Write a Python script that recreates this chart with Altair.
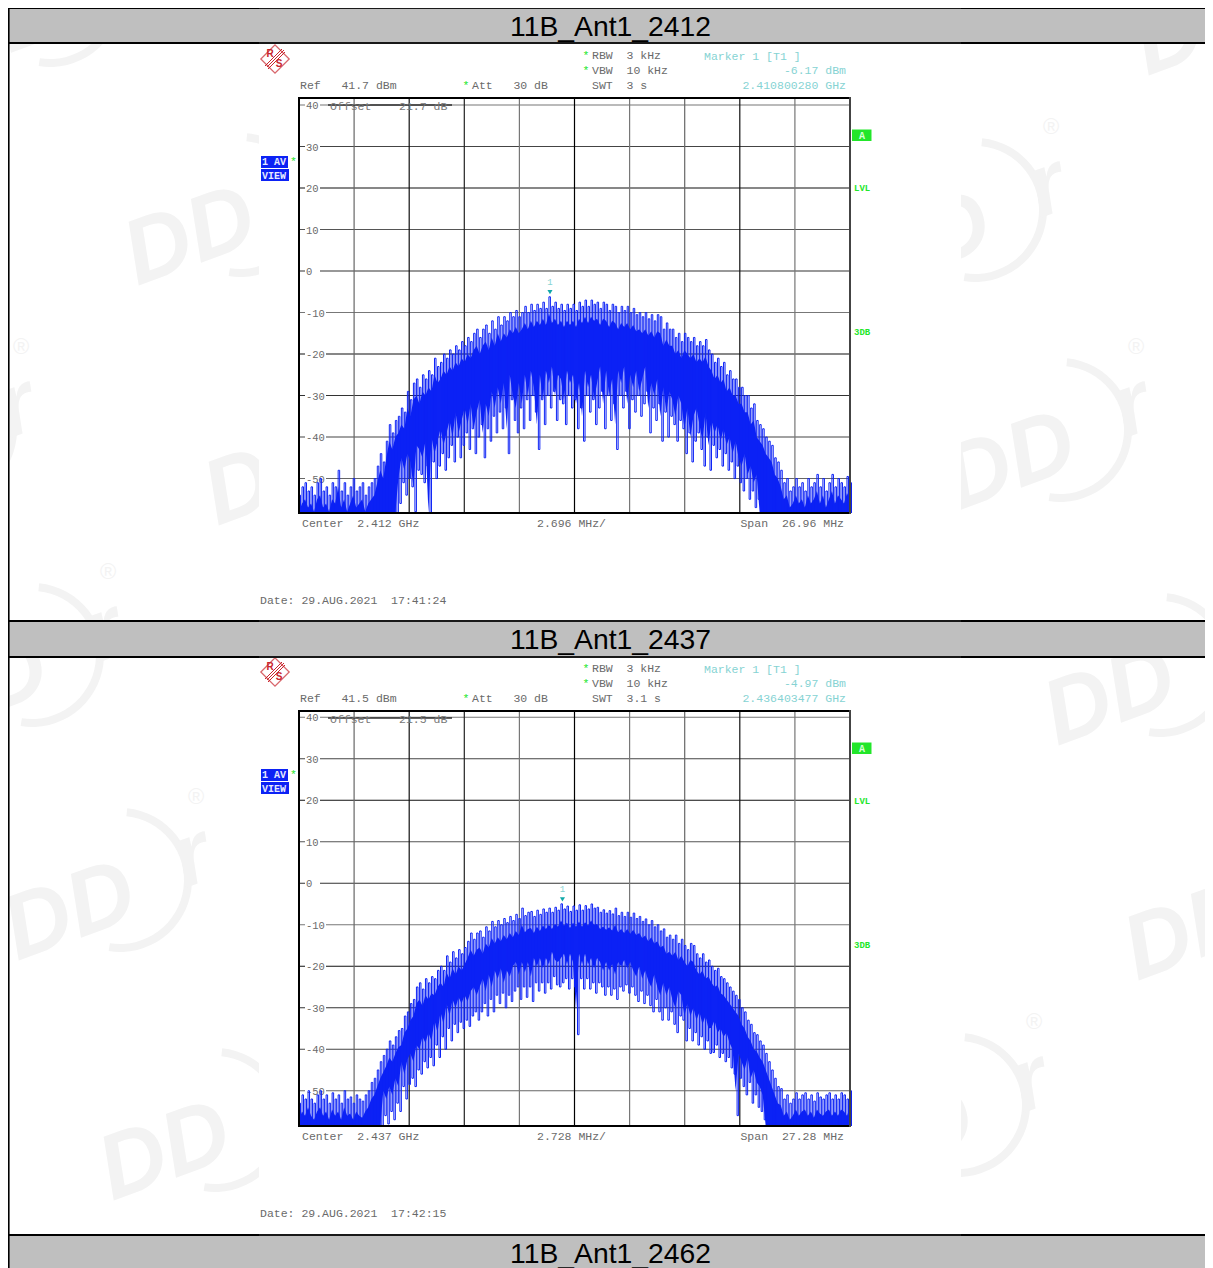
import altair as alt
import pandas as pd

W, H = 1197, 1260
MONO = "Liberation Mono"
SANS = "Liberation Sans"
GRAY = "#6a6a6a"
TEAL = "#86d3d3"
GREEN = "#22e62a"
BLUE = "#0c22f5"
RED = "#c9252d"
BAND = "#bfbfbf"
WM = "#f3f3f3"

TITLES = ["11B_Ant1_2412", "11B_Ant1_2437", "11B_Ant1_2462"]
LEVELS = [40, 30, 20, 10, 0, -10, -20, -30, -40, -50]
LEVEL_SHADES = ["#777777", "#444444", "#111111", "#555555", "#333333", "#777777", "#111111", "#333333", "#444444", "#666666"]
DIVISIONS = [-4, -3, -2, -1, 0, 1, 2, 3, 4]
DIVISION_SHADES = ["#666666", "#111111", "#222222", "#777777", "#000000", "#777777", "#666666", "#111111", "#777777"]

CENTER = [2412.0, 2437.0]
SPAN = [26.96, 27.28]
REF = [41.7, 41.5]
MARKER_F = [2410.800280, 2436.403477]
MARKER_DB = [-6.17, -4.97]
LABELS = [
    dict(ref="Ref   41.7 dBm", off="Offset    21.7 dB", swt="SWT  3 s", mdb="-6.17 dBm", mf="2.410800280 GHz",
         cen="Center  2.412 GHz", div="2.696 MHz/", span="Span  26.96 MHz", date="Date: 29.AUG.2021  17:41:24"),
    dict(ref="Ref   41.5 dBm", off="Offset    21.5 dB", swt="SWT  3.1 s", mdb="-4.97 dBm", mf="2.436403477 GHz",
         cen="Center  2.437 GHz", div="2.728 MHz/", span="Span  27.28 MHz", date="Date: 29.AUG.2021  17:42:15"),
]

HI1 = [
    -54, -52, -51, -53, -52, -54, -51, -50, -53, -52,
    -54, -51, -52, -48, -53, -51, -54, -52, -50, -53,
    -52, -51, -54, -52, -51, -50,
    -47, -44, -46, -41, -37, -39, -36, -35, -33, -34,
    -29, -31, -27, -26, -28, -25, -26, -24, -25, -21,
    -23, -22, -20, -21, -19, -20, -18, -19, -17, -18,
    -16, -17, -15, -14, -16, -14, -13, -15, -12, -14,
    -11, -13, -11, -12, -10, -11, -9.5, -11, -10, -8.5,
    -10, -8, -9.5, -8, -9, -7.5, -9, -6.2, -8.5, -7.5,
    -9, -8, -9.5, -8, -9, -8, -9.5, -7.5, -8.5, -7,
    -8.5, -7, -8, -7.5, -9, -7.5, -8, -9.5, -8, -8.5,
    -10, -8.5, -9.5, -8.5, -10, -9, -10.5, -10, -11, -10,
    -11.5, -10.5, -12, -10.5, -11, -14, -12.5, -14, -14, -16,
    -15, -17, -15, -16, -17, -16, -18, -17, -18, -16.5,
    -19, -20, -22, -21, -23, -22, -25, -24, -26, -26,
    -28, -28, -30, -30, -33, -32, -36, -37, -38, -40,
    -41, -42, -45, -46, -48, -51, -50, -53,
    -52, -50, -52, -51, -53, -50, -52, -51, -49, -52,
    -50, -53, -51, -49, -52, -50, -51, -52, -49.5, -51,
]
LO1 = [-58.3] * 33 + [
    -56, -51, -54, -50, -52, -58, -48, -49, -51, -47,
    -58.3, -46, -50, -47, -44, -48, -45, -42, -46, -40,
    -45, -42, -39, -43, -38, -44, -40, -37, -45, -38,
    -41, -35, -39, -34, -38, -33, -44, -31, -36, -39,
    -33, -38, -31, -36, -30, -34, -43, -31, -37, -30,
    -33, -29, -36, -31, -32, -37, -30, -33, -31, -38,
    -33, -41, -30, -34, -31, -37, -33, -29, -38, -30,
    -36, -32, -43, -30, -33, -29, -38, -31, -34, -30,
    -35, -32, -29, -39, -33, -36, -32, -41, -34, -40,
    -35, -37, -41, -36, -38, -44, -39, -46, -41, -39,
    -43, -47, -40, -48, -42, -45, -43, -47, -44, -48,
    -46, -50, -47, -51, -53, -50, -55, -53, -57, -55,
]
LO1 = LO1 + [-58.3] * (len(HI1) - len(LO1))

HI2 = [
    -53, -51, -52, -50, -52, -53, -51, -50, -52, -51,
    -53, -50.5, -52, -51, -53, -50, -52, -51.5, -53, -51,
    -52, -52.5, -51, -50,
    -48, -47, -45, -43, -41.5, -40, -38, -39, -37, -35.5,
    -35, -32, -31, -29, -28, -25, -24, -25.5, -23, -24,
    -22.5, -23, -21, -20, -21, -17.5, -19, -16.5, -18, -16,
    -17, -15.5, -14, -12, -13.5, -12, -11.5, -13, -10.5, -11.5,
    -9.2, -10.5, -9, -10, -8.5, -9.5, -8, -9, -7.5, -8.5,
    -6, -7.8, -7, -6.8, -8, -6.5, -7.5, -6.2, -7, -6,
    -7, -5.8, -6.5, -4.97, -6.2, -5.5, -6.8, -5.5, -6.5, -5.2,
    -6.5, -5.4, -6.2, -5, -6, -5.8, -7, -6.4, -7.2, -6.6,
    -7.4, -6, -7.8, -7, -8, -7, -8.2, -7.2, -8.5, -8,
    -9.2, -8.6, -10, -9, -10.5, -10, -11.5, -11, -13, -12.5,
    -13.5, -12.5, -14.5, -13.5, -15, -16, -14.5, -15, -17, -18,
    -17, -19, -18.5, -20, -21, -20.5, -22.5, -23, -24, -25,
    -26, -27, -28, -30, -31, -33, -34, -36, -36.5, -38,
    -39, -41, -43, -45, -47, -49, -49.5, -52,
    -51, -53, -52, -50.5, -52, -51, -50.5, -52, -51, -52.5,
    -50.5, -51.5, -52, -51, -50.5, -52, -51, -52, -50.5, -51, -52, -50,
]
LO2 = [-58.5] * 28 + [
    -56, -58, -55, -57, -53, -55, -49, -52, -48.5, -47,
    -49, -45, -46, -43, -44.5, -42, -44, -39, -42, -37,
    -40, -35, -38, -34, -36, -33.5, -35, -33, -34.5, -32,
    -31, -33, -31, -29, -32, -28, -31, -27, -29, -26.5,
    -30, -27, -28.5, -26, -25, -28, -25, -27.5, -25, -28.5,
    -24, -26, -24, -26.5, -24, -25.5, -22.5, -24.5, -25, -24,
    -23, -25.5, -23, -25, -36.5, -23, -25.5, -23, -25.5, -24,
    -26.5, -24, -25, -27, -25, -27, -25.5, -28, -25, -26,
    -24.5, -26.5, -25, -27, -28.5, -26, -29, -27, -29.5, -31,
    -28, -31, -33, -30, -33, -31, -34, -36, -32, -33,
    -38, -35, -38, -36, -39, -37, -40, -38, -41, -40.8,
    -39, -42, -41, -43, -42, -44.5, -46, -56, -47, -49,
    -51, -48, -53, -51, -54, -55, -57,
]
LO2 = LO2 + [-58.5] * (len(HI2) - len(LO2))
TRACES = [(HI1, LO1), (HI2, LO2)]


def px(v):
    return alt.value(v - 8)


def text(s, x, y, size=11.5, color=GRAY, align="left", font=MONO, **kw):
    return alt.Chart().mark_text(text=s.replace(" ", "\u00a0"), fontSize=size, color=color, align=align, font=font,
                                 baseline="middle", **kw).encode(x=px(x), y=px(y))


def box(x0, x1, y0, y1, color):
    return alt.Chart().mark_rect(color=color).encode(x=px(x0), x2=px(x1), y=px(y0), y2=px(y1))


def seg(x0, y0, x1, y1, color, width=1.0):
    return alt.Chart().mark_rule(color=color, strokeWidth=width).encode(
        x=px(x0), x2=px(x1), y=px(y0), y2=px(y1))


def logo(cx, cy, reg=True):
    out = [
        alt.Chart().mark_arc(radius=72, radius2=64, theta=0.1, theta2=3.3, color=WM).encode(x=px(cx), y=px(cy)),
        text("DD", cx - 50, cy + 32, size=92, color=WM, align="center", font=SANS,
             fontWeight="bold", fontStyle="italic", angle=340),
        text("r", cx + 72, cy - 22, size=88, color=WM, align="center", font=SANS,
             fontWeight="bold", fontStyle="italic", angle=340),
    ]
    if reg:
        out.append(text("®", cx + 76, cy - 83, size=22, color=WM, align="center", font=SANS))
    return out


def rs_logo(dy):
    cx, cy = 275, 59 + dy
    return [
        alt.Chart().mark_point(shape="square", size=400, angle=45, color=RED, filled=False, strokeWidth=1.3).encode(
            x=px(cx), y=px(cy)),
        seg(cx + 9, cy - 9, cx - 8, cy + 8, RED, 1),
        seg(cx + 10, cy - 7, cx - 7, cy + 10, RED, 1),
        seg(cx + 7, cy - 10, cx - 10, cy + 7, RED, 1),
        text("R", cx - 5, cy - 5, size=10, color=RED, align="center", font=SANS, fontWeight="bold"),
        text("S", cx + 4, cy + 5, size=10, color=RED, align="center", font=SANS, fontWeight="bold"),
    ]


def panel(i):
    dy = 613 * i
    lab = LABELS[i]
    c, span, ref = CENTER[i], SPAN[i], REF[i]
    floor = ref - 100
    xs = alt.Scale(domain=[c - span / 2, c + span / 2], range=[299 - 8, 850 - 8], nice=False, zero=False)
    ys = alt.Scale(domain=[floor, ref], range=[513 + dy - 8, 98 + dy - 8], nice=False, zero=False)
    X = alt.X("f:Q", scale=xs, axis=None)
    Y = alt.Y("db:Q", scale=ys, axis=None)

    layers = [box(259, 961, 44 + dy, 620.5 + dy, "white")]
    layers += rs_logo(dy)

    h = pd.DataFrame({"db": LEVELS, "shade": LEVEL_SHADES, "f0": c - span / 2, "f1": c + span / 2})
    layers.append(alt.Chart(h).mark_rule(strokeWidth=1.1).encode(
        x=alt.X("f0:Q", scale=xs, axis=None), x2="f1:Q", y=Y, color=alt.Color("shade:N", scale=None, legend=None)))
    v = pd.DataFrame({"f": [c + k * span / 10 for k in DIVISIONS], "shade": DIVISION_SHADES,
                      "d0": floor, "d1": ref})
    layers.append(alt.Chart(v).mark_rule(strokeWidth=1.2).encode(
        x=X, y=alt.Y("d0:Q", scale=ys, axis=None), y2="d1:Q", color=alt.Color("shade:N", scale=None, legend=None)))

    pos = pd.DataFrame({"db": [l for l in LEVELS if l >= 0]})
    neg = pd.DataFrame({"db": [l for l in LEVELS if l < 0]})
    layers.append(alt.Chart(pos).mark_rule(color="white", strokeWidth=3).encode(x=px(305), x2=px(320), y=Y))
    layers.append(alt.Chart(neg).mark_rule(color="white", strokeWidth=3).encode(x=px(305), x2=px(326), y=Y))
    ticks = pd.DataFrame({"db": LEVELS, "lab": [str(l) for l in LEVELS]})
    layers.append(alt.Chart(ticks).mark_text(font=MONO, fontSize=10.5, color="#6a6a6a", align="left", yOffset=1).encode(
        x=px(306), y=Y, text="lab:N"))

    layers.append(seg(328, 105 + dy, 452, 105 + dy, "#2f2f2f", 1.6))
    layers.append(text(lab["off"], 330, 106.5 + dy, color="#777777"))

    hi, lo = TRACES[i]
    n = len(hi)
    step = span / (n - 1)
    rows, core = [], []
    for k, (a, b) in enumerate(zip(hi, lo)):
        f = c - span / 2 + k * step
        rows.append({"f": f, "db": a})
        rows.append({"f": f + step / 2, "db": b})
        core.append({"f": f, "top": a - 4, "bot": floor if b <= floor else min(b + 6, a - 4)})
    layers.append(alt.Chart(pd.DataFrame(core)).mark_area(color=BLUE, clip=True).encode(
        x=X, y=alt.Y("top:Q", scale=ys, axis=None), y2="bot:Q"))
    layers.append(alt.Chart(pd.DataFrame(rows)).mark_line(color=BLUE, strokeWidth=1.0, clip=True,
                                                          interpolate="step-after").encode(x=X, y=Y))

    m = pd.DataFrame({"f": [MARKER_F[i]], "db": [MARKER_DB[i]], "t": ["1"]})
    layers.append(alt.Chart(m).mark_point(shape="triangle-down", size=26, filled=True, color="#10a8a8",
                                          opacity=1, yOffset=-4.5).encode(x=X, y=Y))
    layers.append(alt.Chart(m).mark_text(font=MONO, fontSize=9, color=TEAL, yOffset=-15).encode(x=X, y=Y, text="t:N"))

    layers += [
        seg(298, 98 + dy, 851, 98 + dy, "#000000", 2),
        seg(299, 97 + dy, 299, 514 + dy, "#000000", 2),
        seg(298, 513 + dy, 851, 513 + dy, "#000000", 2),
        seg(850, 97 + dy, 850, 514 + dy, "#444444", 2),
    ]

    layers += [
        text("*", 586, 56 + dy, color=GREEN, align="center"),
        text("RBW  3 kHz", 592, 56 + dy),
        text("*", 586, 71 + dy, color=GREEN, align="center"),
        text("VBW  10 kHz", 592, 71 + dy),
        text(lab["swt"], 592, 86 + dy),
        text(lab["ref"], 300, 86 + dy),
        text("*", 466, 86 + dy, color=GREEN, align="center"),
        text("Att   30 dB", 472, 86 + dy),
        text("Marker 1 [T1 ]", 704, 56.5 + dy, color=TEAL),
        text(lab["mdb"], 846, 71 + dy, color=TEAL, align="right"),
        text(lab["mf"], 846, 86 + dy, color=TEAL, align="right"),
        box(261, 288, 156 + dy, 168 + dy, BLUE),
        box(261, 289, 169 + dy, 181 + dy, BLUE),
        text("1 AV", 262, 162 + dy, color="#e6e9ff", size=10, fontWeight="bold"),
        text("VIEW", 262, 175.5 + dy, color="#e6e9ff", size=10, fontWeight="bold"),
        text("*", 293.5, 161.5 + dy, color=GREEN, align="center"),
        box(852, 871.5, 129.5 + dy, 141 + dy, GREEN),
        text("A", 862, 135.5 + dy, color="#d8ffd8", size=10, align="center", fontWeight="bold"),
        text("LVL", 854, 187.5 + dy, color=GREEN, size=9, fontWeight="bold"),
        text("3DB", 854, 331.5 + dy, color=GREEN, size=9, fontWeight="bold"),
        text(lab["cen"], 302, 523.5 + dy),
        text(lab["div"], 537, 523.5 + dy),
        text(lab["span"], 844, 523.5 + dy, align="right"),
        text(lab["date"], 260, 601 + dy),
    ]
    return layers


layers = []
for cx, cy in [(50, -5), (240, 205), (975, 210), (1060, 430), (1250, -5), (320, 445), (-55, 430),
               (32, 655), (1160, 665), (120, 880), (215, 1120), (958, 1105), (1240, 900)]:
    layers += logo(cx, cy)

layers += panel(0) + panel(1)

for y0, y1, title in [(8, 43, TITLES[0]), (621, 657, TITLES[1]), (1235, 1271, TITLES[2])]:
    layers += [
        box(8, 1213, y0, y1, BAND),
        seg(8, y0, 1213, y0, "#000000", 2),
        seg(8, y1, 1213, y1, "#000000", 2),
        seg(259, y0, 961, y0, "#333333", 1),
        seg(259, y1, 961, y1, "#333333", 1),
        text(title, 610.5, (y0 + y1) / 2 + 2, size=28.3, color="#000000", align="center", font=SANS),
    ]
layers.append(seg(8.8, 8, 8.8, 1268, "#000000", 1.6))

chart = alt.layer(*layers).resolve_scale(x="independent", y="independent").properties(
    width=W, height=H, padding=0, autosize=alt.AutoSizeParams(type="none"),
).configure_view(stroke=None)

chart.save("out.html", embed_options={"renderer": "svg", "actions": False})
